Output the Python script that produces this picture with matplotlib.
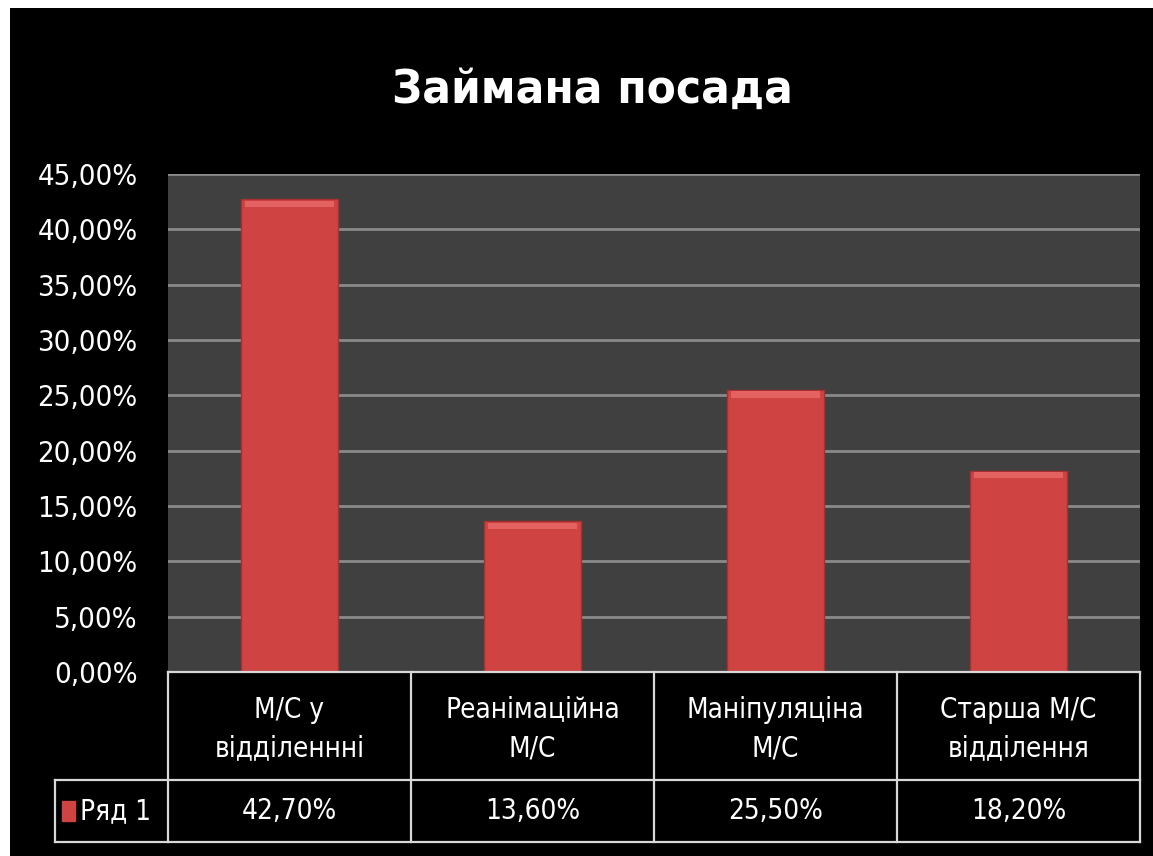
import matplotlib.pyplot as plt
import numpy as np

categories = ['М/С у\nвідділеннні', 'Реанімаційна\nМ/С', 'Маніпуляціна\nМ/С', 'Старша М/С\nвідділення']
values = [42.7, 13.6, 25.5, 18.2]
value_labels = ['42,70%', '13,60%', '25,50%', '18,20%']
series_name = 'Ряд 1'
title = 'Займана посада'
yticks = np.arange(0, 46, 5)

W, H = 1153, 856
plt.rcParams['font.family'] = ['DejaVu Sans']
plt.rcParams['font.stretch'] = 'condensed'

fig = plt.figure(figsize=(W / 100, H / 100), dpi=100)
fig.patch.set_facecolor('white')

def fx(px):
    return px / W

def fy(py):
    return 1 - py / H

# black slide background
bg = fig.add_axes([fx(10), 0, 1 - fx(10), fy(8)])
bg.set_facecolor('black')
bg.set_xticks([])
bg.set_yticks([])
for s in bg.spines.values():
    s.set_visible(False)

fig.text(fx(592), fy(103), title, color='white', fontsize=34, fontweight='bold',
         ha='center', va='baseline')

# plot area
x0, x1, ytop, ybot = 168, 1140, 174, 672
ax = fig.add_axes([fx(x0), fy(ybot), fx(x1 - x0), fy(ytop) - fy(ybot)])
ax.set_facecolor('#404040')
x = np.arange(len(categories))
ax.set_xlim(-0.5, len(categories) - 0.5)
ax.set_ylim(0, 45)
ax.set_yticks(yticks)
ax.set_yticklabels([f'{t:.2f}%'.replace('.', ',') for t in yticks])
ax.tick_params(axis='y', colors='white', labelsize=21, length=0, pad=22)
ax.tick_params(axis='x', length=0, labelbottom=False)
ax.yaxis.grid(True, color='#8a8a8a', linewidth=2)
ax.set_axisbelow(True)
for s in ax.spines.values():
    s.set_visible(False)

bars = ax.bar(x, values, width=0.4, color='#d04343', edgecolor='#a83030', linewidth=1.0, zorder=3)
# bevel highlight on top of each bar
ax.bar(x, [0.6] * len(values), width=0.37, bottom=np.array(values) - 0.7,
       color='#e46262', linewidth=0, zorder=4)

# data table below the chart
tab = fig.add_axes([0, 0, 1, 1], facecolor='none')
tab.set_xlim(0, W)
tab.set_ylim(H, 0)
tab.axis('off')
lc = '#d8d8d8'
lw = 1.6
cell_w = (x1 - x0) / len(categories)
edges = [x0 + i * cell_w for i in range(len(categories) + 1)]
r0, r1, r2 = 672, 780, 842
tab.plot([x0, x1], [r0, r0], color=lc, lw=lw)
tab.plot([55, x1], [r1, r1], color=lc, lw=lw)
tab.plot([55, x1], [r2, r2], color=lc, lw=lw)
tab.plot([55, 55], [r1, r2], color=lc, lw=lw)
for e in edges:
    tab.plot([e, e], [r0, r2], color=lc, lw=lw)
for i, (cat, lab) in enumerate(zip(categories, value_labels)):
    cx = edges[i] + cell_w / 2
    tab.text(cx, (r0 + r1) / 2 + 3, cat, color='white', fontsize=20, ha='center', va='center',
             linespacing=1.5)
    tab.text(cx, (r1 + r2) / 2, lab, color='white', fontsize=20, ha='center', va='center')
tab.add_patch(plt.Rectangle((62, 801), 13, 20, color='#d04343'))
tab.text(80, (r1 + r2) / 2, series_name, color='white', fontsize=20, ha='left', va='center')

fig.savefig('out.png', dpi=100, facecolor=fig.get_facecolor())
